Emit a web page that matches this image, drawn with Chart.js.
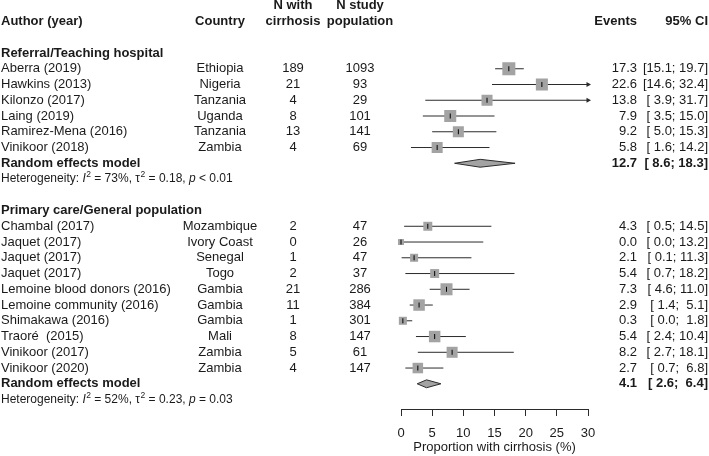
<!DOCTYPE html>
<html>
<head>
<meta charset="utf-8">
<script src="https://cdn.jsdelivr.net/npm/chart.js@4.4.1/dist/chart.umd.min.js"></script>
<style>
  html, body { margin: 0; padding: 0; background: #fff; }
</style>
</head>
<body>
<canvas id="forest" width="709" height="456"></canvas>
<script>
// Referral / teaching hospital studies
var authorsA = ["Aberra (2019)", "Hawkins (2013)", "Kilonzo (2017)", "Laing (2019)", "Ramirez-Mena (2016)", "Vinikoor (2018)"];
var countriesA = ["Ethiopia", "Nigeria", "Tanzania", "Uganda", "Tanzania", "Zambia"];
var cirrA = [189, 21, 4, 8, 13, 4];
var totalA = [1093, 93, 29, 101, 141, 69];
var estA = [17.3, 22.6, 13.8, 7.9, 9.2, 5.8];
var loA = [15.1, 14.6, 3.9, 3.5, 5.0, 1.6];
var hiA = [19.7, 32.4, 31.7, 15.0, 15.3, 14.2];
var weightA = [9.5, 8.1, 6.8, 8.1, 6.8, 6.8];

// Primary care / general population studies
var authorsB = ["Chambal (2017)", "Jaquet (2017)", "Jaquet (2017)", "Jaquet (2017)", "Lemoine blood donors (2016)",
                "Lemoine community (2016)", "Shimakawa (2016)", "Traoré  (2015)", "Vinikoor (2017)", "Vinikoor (2020)"];
var countriesB = ["Mozambique", "Ivory Coast", "Senegal", "Togo", "Gambia", "Gambia", "Gambia", "Mali", "Zambia", "Zambia"];
var cirrB = [2, 0, 1, 2, 21, 11, 1, 8, 5, 4];
var totalB = [47, 26, 47, 37, 286, 384, 301, 147, 61, 147];
var estB = [4.3, 0.0, 2.1, 5.4, 7.3, 2.9, 0.3, 5.4, 8.2, 2.7];
var loB = [0.5, 0.0, 0.1, 0.7, 4.6, 1.4, 0.0, 2.4, 2.7, 0.7];
var hiB = [14.5, 13.2, 11.3, 18.2, 11.0, 5.1, 1.8, 10.4, 18.1, 6.8];
var weightB = [4.5, 2.0, 3.6, 4.5, 8.1, 7.4, 3.6, 7.4, 6.8, 6.2];

// random effects models and heterogeneity, one entry per subgroup
var groupNames = ["Referral/Teaching hospital", "Primary care/General population"];
var pooledEst = [12.7, 4.1];
var pooledLo = [8.6, 2.6];
var pooledHi = [18.3, 6.4];
var hetI2 = ["73%", "52%"];
var hetTau2 = ["0.18", "0.23"];
var hetP = ["< 0.01", "= 0.03"];

var xTicks = [0, 5, 10, 15, 20, 25, 30];
var xMax = 30;

// row numbers (y axis runs top to bottom)
var rowsA = [1, 2, 3, 4, 5, 6];
var rowsB = [11, 12, 13, 14, 15, 16, 17, 18, 19, 20];
var groupRows = [0, 10];
var pooledRows = [7, 21];
var hetRows = [8, 22];

var FONT = "'Liberation Sans', Arial, Helvetica, sans-serif";
var INK = '#1a1a1a';
var LINE = '#2b2b2b';
var GREY = '#a3a3a3';

function fmt(v) {
    var s = v.toFixed(1);
    return (s.length < 4 ? ' ' : '') + s;
}
function ciText(lo, hi) {
    return '[' + fmt(lo) + '; ' + fmt(hi) + ']';
}

var est = estA.concat(estB);
var lo = loA.concat(loB);
var hi = hiA.concat(hiB);
var rows = rowsA.concat(rowsB);
var weights = weightA.concat(weightB);

var datasets = [];

// confidence interval lines
est.forEach(function (e, i) {
    datasets.push({
        type: 'line',
        data: [{ x: lo[i], y: rows[i] }, { x: Math.min(hi[i], xMax), y: rows[i] }],
        borderColor: LINE,
        borderWidth: 1,
        pointRadius: 0,
        fill: false,
        clip: false,
        order: 3
    });
});

// arrows for intervals running past the axis
var arrowPts = [];
hi.forEach(function (h, i) {
    if (h > xMax) arrowPts.push({ x: xMax, y: rows[i] });
});
datasets.push({
    type: 'scatter',
    data: arrowPts,
    pointStyle: 'triangle',
    rotation: 90,
    pointRadius: 3,
    backgroundColor: LINE,
    borderWidth: 0,
    clip: false,
    order: 3
});

// weight squares
datasets.push({
    type: 'scatter',
    data: est.map(function (e, i) { return { x: e, y: rows[i] }; }),
    pointStyle: 'rect',
    pointRadius: weights.map(function (w) { return 4.225 * Math.sqrt(w) / Math.SQRT2; }),
    backgroundColor: GREY,
    borderWidth: 0,
    clip: false,
    order: 2
});

// point estimate marks
datasets.push({
    type: 'scatter',
    data: est.map(function (e, i) { return { x: e, y: rows[i] }; }),
    pointStyle: 'line',
    rotation: 90,
    pointRadius: 2.5,
    borderColor: '#000',
    borderWidth: 1,
    clip: false,
    order: 1
});

// pooled diamonds
pooledEst.forEach(function (e, g) {
    var r = pooledRows[g], h = 0.25;
    datasets.push({
        type: 'line',
        data: [
            { x: pooledLo[g], y: r },
            { x: e, y: r - h },
            { x: pooledHi[g], y: r },
            { x: e, y: r + h },
            { x: pooledLo[g], y: r }
        ],
        borderColor: LINE,
        borderWidth: 1,
        backgroundColor: GREY,
        pointRadius: 0,
        tension: 0,
        fill: 'shape',
        clip: false,
        order: 2
    });
});

// heterogeneity line with italic I / p and superscript 2s
function drawHet(ctx, y, g) {
    var norm = '12px ' + FONT, ital = 'italic 12px ' + FONT, sup = '8.5px ' + FONT;
    var parts = [
        ['Heterogeneity: ', norm, 0],
        ['I', ital, 0],
        ['2', sup, -4],
        [' = ' + hetI2[g] + ', \u03c4', norm, 0],
        ['2', sup, -4],
        [' = ' + hetTau2[g] + ', ', norm, 0],
        ['p', ital, 0],
        [' ' + hetP[g], norm, 0]
    ];
    var x = 1;
    ctx.textAlign = 'left';
    parts.forEach(function (p) {
        ctx.font = p[1];
        var pad = p[2] ? 0.5 : 0;
        ctx.fillText(p[0], x + pad, y + p[2]);
        x += ctx.measureText(p[0]).width + pad;
    });
}

var tablePlugin = {
    id: 'forestTable',
    afterDraw: function (chart) {
        var ctx = chart.ctx;
        var ys = chart.scales.y;
        var colAuthor = 1, colCountry = 220, colCirr = 293, colTotal = 360, colEvents = 637, colCI = 708;
        ctx.save();
        ctx.fillStyle = INK;
        ctx.textBaseline = 'middle';

        function txt(s, x, r, align, bold) {
            ctx.font = (bold ? 'bold ' : '') + '13px ' + FONT;
            ctx.textAlign = align;
            ctx.fillText(s, x, ys.getPixelForValue(r));
        }

        // header
        txt('N with', colCirr, -3, 'center', true);
        txt('N study', colTotal, -3, 'center', true);
        txt('Author (year)', colAuthor, -2, 'left', true);
        txt('Country', colCountry, -2, 'center', true);
        txt('cirrhosis', colCirr, -2, 'center', true);
        txt('population', colTotal, -2, 'center', true);
        txt('Events', colEvents, -2, 'right', true);
        txt('95% CI', colCI, -2, 'right', true);

        var groups = [
            [authorsA, countriesA, cirrA, totalA, estA, loA, hiA, rowsA],
            [authorsB, countriesB, cirrB, totalB, estB, loB, hiB, rowsB]
        ];
        groups.forEach(function (gr, g) {
            txt(groupNames[g], colAuthor, groupRows[g], 'left', true);
            gr[0].forEach(function (a, i) {
                var r = gr[7][i];
                txt(a, colAuthor, r, 'left', false);
                txt(gr[1][i], colCountry, r, 'center', false);
                txt(String(gr[2][i]), colCirr, r, 'center', false);
                txt(String(gr[3][i]), colTotal, r, 'center', false);
                txt(gr[4][i].toFixed(1), colEvents, r, 'right', false);
                txt(ciText(gr[5][i], gr[6][i]), colCI, r, 'right', false);
            });
            txt('Random effects model', colAuthor, pooledRows[g], 'left', true);
            txt(pooledEst[g].toFixed(1), colEvents, pooledRows[g], 'right', true);
            txt(ciText(pooledLo[g], pooledHi[g]), colCI, pooledRows[g], 'right', true);
            drawHet(ctx, ys.getPixelForValue(hetRows[g]), g);
        });
        ctx.restore();
    }
};

var chart = new Chart(document.getElementById('forest'), {
    type: 'scatter',
    data: { datasets: datasets },
    options: {
        responsive: false,
        animation: false,
        events: [],
        layout: { autoPadding: false, padding: { left: 401, right: 121, top: 0, bottom: 0 } },
        plugins: {
            legend: { display: false },
            tooltip: { enabled: false }
        },
        scales: {
            x: {
                type: 'linear',
                min: 0,
                max: xMax,
                afterBuildTicks: function (scale) {
                    scale.ticks = xTicks.map(function (v) { return { value: v }; });
                },
                afterFit: function (scale) { scale.height = 47; },
                grid: { drawOnChartArea: false, drawTicks: true, tickLength: 7, color: LINE },
                border: { display: true, color: LINE, width: 1 },
                ticks: { color: INK, font: { family: FONT, size: 13 }, padding: 10, maxRotation: 0 },
                title: {
                    display: true,
                    text: 'Proportion with cirrhosis (%)',
                    color: INK,
                    font: { family: FONT, size: 13 },
                    padding: { top: 0, bottom: 1 }
                }
            },
            y: {
                type: 'linear',
                display: false,
                reverse: true,
                min: -3.365,
                max: 22.6
            }
        }
    },
    plugins: [tablePlugin]
});
</script>
</body>
</html>
